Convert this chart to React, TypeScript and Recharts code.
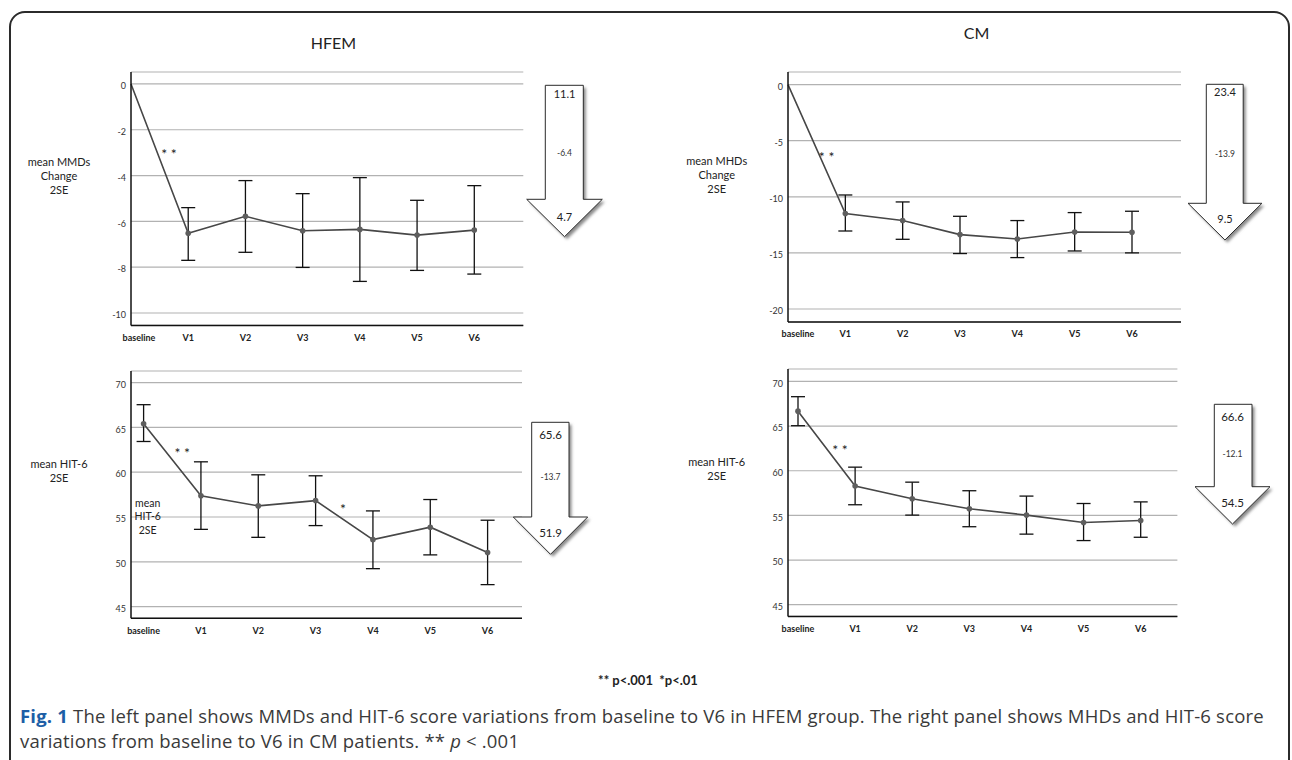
import { CartesianGrid, ErrorBar, Line, LineChart, XAxis, YAxis } from 'recharts';

const visits = ['baseline', 'V1', 'V2', 'V3', 'V4', 'V5', 'V6'];

// HFEM - mean MMDs change (2SE)
const hfemMmdMean = [0, -6.52, -5.78, -6.41, -6.35, -6.6, -6.38];
const hfemMmdLow = [null, -7.7, -7.35, -8.01, -8.62, -8.14, -8.3];
const hfemMmdHigh = [null, -5.4, -4.22, -4.79, -4.09, -5.08, -4.44];

// CM - mean MHDs change (2SE)
const cmMhdMean = [0, -11.5, -12.12, -13.37, -13.76, -13.14, -13.16];
const cmMhdLow = [null, -13.05, -13.79, -15.06, -15.42, -14.83, -15.0];
const cmMhdHigh = [null, -9.84, -10.46, -11.74, -12.12, -11.41, -11.29];

// HFEM - mean HIT-6 (2SE)
const hfemHitMean = [65.41, 57.37, 56.24, 56.83, 52.47, 53.86, 51.03];
const hfemHitLow = [63.43, 53.62, 52.73, 54.04, 49.23, 50.77, 47.45];
const hfemHitHigh = [67.54, 61.16, 59.71, 59.6, 55.68, 56.95, 54.64];

// CM - mean HIT-6 (2SE)
const cmHitMean = [66.67, 58.28, 56.86, 55.74, 55.03, 54.21, 54.43];
const cmHitLow = [65.04, 56.19, 55.03, 53.73, 52.9, 52.18, 52.55];
const cmHitHigh = [68.29, 60.4, 58.72, 57.76, 57.16, 56.33, 56.51];

// arrows: start value, change, end value
const hfemMmdArrow = ['11.1', '-6.4', '4.7'];
const cmMhdArrow = ['23.4', '-13.9', '9.5'];
const hfemHitArrow = ['65.6', '-13.7', '51.9'];
const cmHitArrow = ['66.6', '-12.1', '54.5'];

const mmdTicks = [0, -2, -4, -6, -8, -10];
const mhdTicks = [0, -5, -10, -15, -20];
const hitTicks = [45, 50, 55, 60, 65, 70];

const FONT = 'Lato, "Open Sans", sans-serif';

const buildRows = (
  mean: number[],
  low: (number | null)[],
  high: (number | null)[],
) =>
  visits.map((visit, i) => ({
    visit,
    mean: mean[i],
    err:
      low[i] == null || high[i] == null
        ? null
        : [mean[i] - (low[i] as number), (high[i] as number) - mean[i]],
  }));

const YTick = (props: any) => {
  const { x, y, payload } = props;
  return (
    <text
      x={x}
      y={y + 3}
      textAnchor="end"
      dominantBaseline="middle"
      fontSize={9}
      fill="#333"
      fontFamily={FONT}>
      {payload.value}
    </text>
  );
};

const XTick = (props: any) => {
  const { x, y, payload, index, firstDx } = props;
  return (
    <text
      x={x + (index === 0 ? firstDx || 0 : 0)}
      y={y + 11}
      textAnchor="middle"
      dominantBaseline="middle"
      fontSize={9}
      fontWeight="bold"
      fill="#222"
      fontFamily={FONT}>
      {payload.value}
    </text>
  );
};

const renderDot = (props: any) => {
  const { cx, cy, payload, index } = props;
  if (payload.err == null) return <g key={`d${index}`} />;
  return <circle key={`d${index}`} cx={cx} cy={cy} r={2.8} fill="#5e5e5e" />;
};

interface PanelProps {
  rows: any[];
  domain: [number, number];
  ticks: number[];
  plot: { x: number; y: number; w: number; h: number };
  pad: { left: number; right: number };
  firstDx?: number;
}

const Panel = ({ rows, domain, ticks, plot, pad, firstDx }: PanelProps) => {
  const yw = 60;
  const mt = 10;
  const mr = 10;
  const xh = 30;
  return (
    <div style={{ position: 'absolute', left: plot.x - yw, top: plot.y - mt }}>
      <LineChart
        width={yw + plot.w + mr}
        height={mt + plot.h + xh}
        data={rows}
        margin={{ top: mt, right: mr, left: 0, bottom: 0 }}>
        <CartesianGrid vertical={false} stroke="#b2b2b2" strokeWidth={1.2} />
        <XAxis
          dataKey="visit"
          height={xh}
          padding={pad}
          interval={0}
          axisLine={{ stroke: '#111', strokeWidth: 1.5 }}
          tickLine={false}
          tickSize={0}
          tick={<XTick firstDx={firstDx} />}
        />
        <YAxis
          type="number"
          width={yw}
          domain={domain}
          ticks={ticks}
          allowDataOverflow
          axisLine={{ stroke: '#111', strokeWidth: 1.5 }}
          tickLine={false}
          tickSize={0}
          tickMargin={5}
          tick={<YTick />}
        />
        <Line
          type="linear"
          dataKey="mean"
          stroke="#474747"
          strokeWidth={1.6}
          dot={renderDot}
          activeDot={false}
          isAnimationActive={false}>
          <ErrorBar
            dataKey="err"
            direction="y"
            width={7}
            stroke="#111"
            strokeWidth={1.3}
          />
        </Line>
      </LineChart>
    </div>
  );
};

interface ArrowProps {
  sl: number;
  sr: number;
  top: number;
  hy: number;
  hl: number;
  hr: number;
  tip: number;
  labels: string[];
  ty: number[];
  big: number;
}

const Arrow = ({ sl, sr, top, hy, hl, hr, tip, labels, ty, big }: ArrowProps) => {
  const cx = (hl + hr) / 2;
  const pts = `${sl},${top} ${sr},${top} ${sr},${hy} ${hr},${hy} ${cx},${tip} ${hl},${hy} ${sl},${hy}`;
  return (
    <g>
      <polygon points={pts} fill="#8a8a8a" transform="translate(2.5,2.5)" filter="url(#soft)" />
      <polygon points={pts} fill="#fff" stroke="#2a2a2a" strokeWidth={1} />
      <text x={cx} y={ty[0]} fontSize={big} textAnchor="middle" dominantBaseline="middle" fill="#222">
        {labels[0]}
      </text>
      <text x={cx} y={ty[1]} fontSize={8.5} textAnchor="middle" dominantBaseline="middle" fill="#333">
        {labels[1]}
      </text>
      <text x={cx} y={ty[2]} fontSize={big} textAnchor="middle" dominantBaseline="middle" fill="#222">
        {labels[2]}
      </text>
    </g>
  );
};

const SideLabel = ({ x, y, lines, size = 11 }: { x: number; y: number; lines: string[]; size?: number }) => (
  <text x={x} y={y} fontSize={size} textAnchor="middle" fill="#222">
    {lines.map((l, i) => (
      <tspan key={i} x={x} dy={i === 0 ? 0 : 13.8}>
        {l}
      </tspan>
    ))}
  </text>
);

export default function App() {
  return (
    <div
      style={{
        position: 'absolute',
        left: 0,
        top: 0,
        width: 1292,
        height: 760,
        background: '#fff',
        overflow: 'hidden',
      }}>
      <Panel
        rows={buildRows(hfemMmdMean, hfemMmdLow, hfemMmdHigh)}
        domain={[-10.54, 0.52]}
        ticks={mmdTicks}
        plot={{ x: 130.7, y: 72.3, w: 392.3, h: 253.4 }}
        pad={{ left: 0, right: 49 }}
        firstDx={8}
      />
      <Panel
        rows={buildRows(cmMhdMean, cmMhdLow, cmMhdHigh)}
        domain={[-21.16, 1.12]}
        ticks={mhdTicks}
        plot={{ x: 788, y: 71.7, w: 393, h: 250 }}
        pad={{ left: 0, right: 49 }}
        firstDx={10}
      />
      <Panel
        rows={buildRows(hfemHitMean, hfemHitLow, hfemHitHigh)}
        domain={[43.69, 71.3]}
        ticks={hitTicks}
        plot={{ x: 130.7, y: 370.7, w: 391, h: 247.3 }}
        pad={{ left: 12.6, right: 34.4 }}
      />
      <Panel
        rows={buildRows(cmHitMean, cmHitLow, cmHitHigh)}
        domain={[43.69, 71.39]}
        ticks={hitTicks}
        plot={{ x: 788.3, y: 369.3, w: 389.4, h: 247.4 }}
        pad={{ left: 10, right: 36.7 }}
      />

      <svg
        width={1292}
        height={760}
        style={{ position: 'absolute', left: 0, top: 0, pointerEvents: 'none' }}
        fontFamily={FONT}>
        <defs>
          <filter id="soft" x="-20%" y="-20%" width="140%" height="140%">
            <feGaussianBlur stdDeviation={1.4} />
          </filter>
        </defs>
        <rect x={10} y={12} width={1279} height={820} rx={15} fill="none" stroke="#2b2b2b" strokeWidth={2} />

        <text x={333.5} y={49} fontSize={16} textAnchor="middle" fill="#222">HFEM</text>
        <text x={976.6} y={39} fontSize={16} textAnchor="middle" fill="#222">CM</text>

        <SideLabel x={59} y={166} lines={['mean MMDs', 'Change', '2SE']} />
        <SideLabel x={716.7} y={165} lines={['mean MHDs', 'Change', '2SE']} />
        <SideLabel x={59} y={468} lines={['mean HIT-6', '2SE']} />
        <SideLabel x={716.7} y={466} lines={['mean HIT-6', '2SE']} />
        <SideLabel x={147.7} y={506.5} lines={['mean', 'HIT-6', '2SE']} size={10.5} />

        <text x={169} y={159} fontSize={14} textAnchor="middle" fill="#222">* *</text>
        <text x={826.6} y={162} fontSize={14} textAnchor="middle" fill="#222">* *</text>
        <text x={182.3} y={458} fontSize={14} textAnchor="middle" fill="#222">* *</text>
        <text x={840} y={454.5} fontSize={14} textAnchor="middle" fill="#222">* *</text>
        <text x={343} y={514} fontSize={14} textAnchor="middle" fill="#222">*</text>

        <Arrow sl={545.3} sr={583.3} top={85.3} hy={199.3} hl={526.7} hr={602.3} tip={236.7}
          labels={hfemMmdArrow} ty={[95.3, 154.3, 218.7]} big={11} />
        <Arrow sl={1206.3} sr={1243.2} top={84.3} hy={203.3} hl={1188} hr={1261.9} tip={240}
          labels={cmMhdArrow} ty={[93.7, 155, 220.7]} big={11} />
        <Arrow sl={531.7} sr={569} top={422.3} hy={517} hl={513.3} hr={587.7} tip={554.3}
          labels={hfemHitArrow} ty={[435.7, 477.7, 534]} big={11.5} />
        <Arrow sl={1214.3} sr={1252} top={404.3} hy={486.7} hl={1195} hr={1270} tip={524}
          labels={cmHitArrow} ty={[417.7, 455, 504]} big={11.5} />

        <text x={648} y={685} fontSize={13} fontWeight="bold" textAnchor="middle" fill="#222">
          ** p&lt;.001&#160; *p&lt;.01
        </text>
      </svg>

      <div
        style={{
          position: 'absolute',
          left: 20,
          top: 703,
          whiteSpace: 'nowrap',
          fontFamily: '"Open Sans", sans-serif',
          fontSize: 18.5,
          letterSpacing: 0.19,
          lineHeight: '25px',
          color: '#3a3a3a',
        }}>
        <span style={{ color: '#1d5ea6', fontWeight: 'bold' }}>Fig. 1</span> The left panel shows
        MMDs and HIT-6 score variations from baseline to V6 in HFEM group. The right panel shows
        MHDs and HIT-6 score
        <br />
        variations from baseline to V6 in CM patients. ** <i>p</i> &lt; .001
      </div>
    </div>
  );
}
